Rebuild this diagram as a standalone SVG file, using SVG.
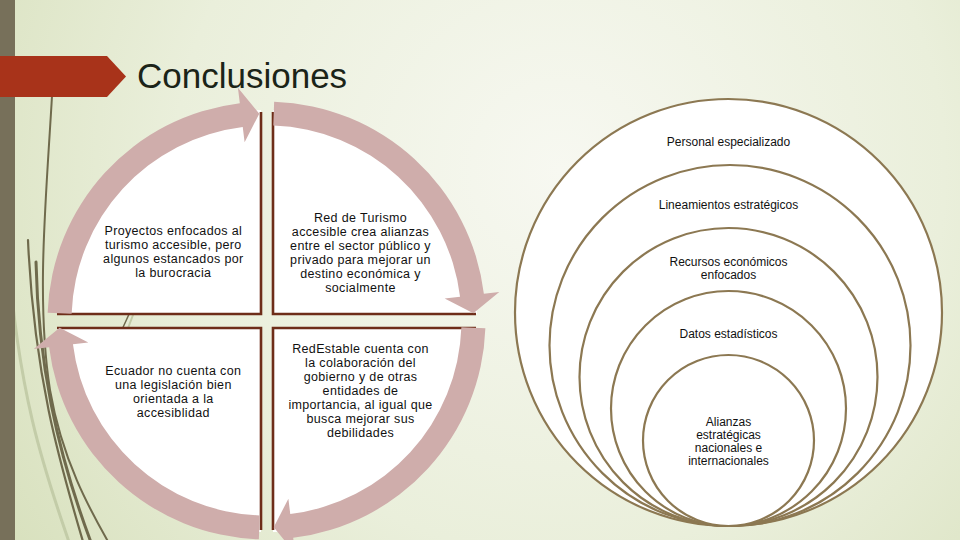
<svg xmlns="http://www.w3.org/2000/svg" width="960" height="540" viewBox="0 0 960 540">
  <defs>
    <radialGradient id="bg" cx="560" cy="170" r="700" gradientUnits="userSpaceOnUse">
      <stop offset="0" stop-color="#f7f8f1"/>
      <stop offset="0.55" stop-color="#eaefdb"/>
      <stop offset="1" stop-color="#d6dfba"/>
    </radialGradient>
  </defs>
  <style>
    .quad { fill: #ffffff; stroke: none; }
    .edge { fill: none; stroke: #6e2d19; stroke-width: 2.6; }
    .arrow { fill: #cfadab; stroke: none; }
    .qtext { font-family: "Liberation Sans", Arial, sans-serif; font-size: 12.5px; letter-spacing: 0.35px; fill: #111111; text-anchor: middle; }
    .ring { fill: #ffffff; stroke: #8c7852; stroke-width: 2.2; }
    .ctext { font-family: "Liberation Sans", Arial, sans-serif; font-size: 12px; fill: #111111; text-anchor: middle; }
    .deco { fill: none; stroke: #6f6a4c; stroke-linecap: round; }
    .decol { fill: none; stroke: #c3cca8; stroke-linecap: round; }
  </style>

  <!-- background -->
  <rect x="0" y="0" width="960" height="540" fill="url(#bg)"/>
  <g id="decoration">
    <path class="decol" d="M8,250 C18,400 48,480 70,545" stroke-width="3"/>
    <path class="decol" d="M150,270 C135,310 120,350 100,400" stroke-width="2"/>
    <path class="deco" d="M52,96 C46,200 36,300 50,390 C62,460 90,510 110,545" stroke-width="2"/>
    <path class="deco" d="M36,262 C38,360 56,450 92,545" stroke-width="3"/>
    <path class="deco" d="M28,240 C34,380 62,470 84,545" stroke-width="2.2"/>
    <path class="deco" d="M140,290 L115,345" stroke-width="1.5"/>
    <rect x="0" y="0" width="15" height="540" fill="#77705a"/>
  </g>

  <!-- title -->
  <g id="title">
    <polygon points="0,56 107,56 126,76.5 107,97 0,97" fill="#a8331a"/>
    <text x="137" y="88" font-family="Liberation Sans, Arial, sans-serif" font-size="35" fill="#1b2418">Conclusiones</text>
  </g>

  <!-- cycle quadrants -->
  <g id="node-tl">
    <path class="quad" d="M261,314 L57,314 A204,204 0 0 1 261,110 Z"/>
    <polyline class="edge" points="261,112 261,314 57,314"/>
    <text class="qtext" x="173.3" y="235">Proyectos enfocados al</text>
    <text class="qtext" x="173.3" y="249">turismo accesible, pero</text>
    <text class="qtext" x="173.3" y="263">algunos estancados por</text>
    <text class="qtext" x="173.3" y="277">la burocracia</text>
  </g>
  <g id="node-tr">
    <path class="quad" d="M273,314 L273,110 A204,204 0 0 1 477,314 Z"/>
    <polyline class="edge" points="273,112 273,314 476,314"/>
    <text class="qtext" x="360.5" y="221.5">Red de Turismo</text>
    <text class="qtext" x="360.5" y="235.5">accesible crea alianzas</text>
    <text class="qtext" x="360.5" y="249.5">entre el sector público y</text>
    <text class="qtext" x="360.5" y="263.5">privado para mejorar un</text>
    <text class="qtext" x="360.5" y="277.5">destino económica y</text>
    <text class="qtext" x="360.5" y="291.5">socialmente</text>
  </g>
  <g id="node-br">
    <path class="quad" d="M273,328 L477,328 A204,204 0 0 1 273,532 Z"/>
    <polyline class="edge" points="476,328 273,328 273,530"/>
    <text class="qtext" x="360.5" y="353">RedEstable cuenta con</text>
    <text class="qtext" x="360.5" y="367">la colaboración del</text>
    <text class="qtext" x="360.5" y="381">gobierno y de otras</text>
    <text class="qtext" x="360.5" y="395">entidades de</text>
    <text class="qtext" x="360.5" y="409">importancia, al igual que</text>
    <text class="qtext" x="360.5" y="423">busca mejorar sus</text>
    <text class="qtext" x="360.5" y="437">debilidades</text>
  </g>
  <g id="node-bl">
    <path class="quad" d="M261,328 L261,532 A204,204 0 0 1 57,328 Z"/>
    <polyline class="edge" points="261,530 261,328 57,328"/>
    <text class="qtext" x="173.3" y="375">Ecuador no cuenta con</text>
    <text class="qtext" x="173.3" y="389">una legislación bien</text>
    <text class="qtext" x="173.3" y="403">orientada a la</text>
    <text class="qtext" x="173.3" y="417">accesiblidad</text>
  </g>

  <!-- circular arrows -->
  <g id="connectors">
    <path class="arrow" d="M47.63,312.86 A219,219 0 0 1 239.81,103.13 L237.92,87.75 L259.28,113.63 L244.62,142.34 L242.74,126.95 A195,195 0 0 0 71.62,313.69 Z"/>
    <path class="arrow" d="M274.14,101.63 A219,219 0 0 1 483.87,293.81 L499.25,291.92 L473.37,313.28 L444.66,298.62 L460.05,296.74 A195,195 0 0 0 273.31,125.62 Z"/>
    <path class="arrow" d="M485.37,328.14 A219,219 0 0 1 293.19,537.87 L295.08,553.25 L273.72,527.37 L288.38,498.66 L290.26,514.05 A195,195 0 0 0 461.38,327.31 Z"/>
    <path class="arrow" d="M258.86,539.37 A219,219 0 0 1 49.13,347.19 L33.75,349.08 L59.63,327.72 L88.34,342.38 L72.95,344.26 A195,195 0 0 0 259.69,515.38 Z"/>
  </g>

  <!-- nested circles -->
  <g id="node-personal">
    <circle class="ring" cx="728.5" cy="312.5" r="213.5"/>
    <text class="ctext" x="728.5" y="146">Personal especializado</text>
  </g>
  <g id="node-lineamientos">
    <circle class="ring" cx="730" cy="345.5" r="180.5"/>
    <text class="ctext" x="728.5" y="209">Lineamientos estratégicos</text>
  </g>
  <g id="node-recursos">
    <circle class="ring" cx="728.5" cy="377" r="149"/>
    <text class="ctext" x="728.5" y="266">Recursos económicos</text>
    <text class="ctext" x="728.5" y="279">enfocados</text>
  </g>
  <g id="node-datos">
    <circle class="ring" cx="728.5" cy="408.5" r="117.5"/>
    <text class="ctext" x="728.5" y="338">Datos estadísticos</text>
  </g>
  <g id="node-alianzas">
    <circle class="ring" cx="728.5" cy="440.5" r="85.5"/>
    <text class="ctext" x="728.5" y="426">Alianzas</text>
    <text class="ctext" x="728.5" y="439">estratégicas</text>
    <text class="ctext" x="728.5" y="452">nacionales e</text>
    <text class="ctext" x="728.5" y="465">internacionales</text>
  </g>
</svg>
